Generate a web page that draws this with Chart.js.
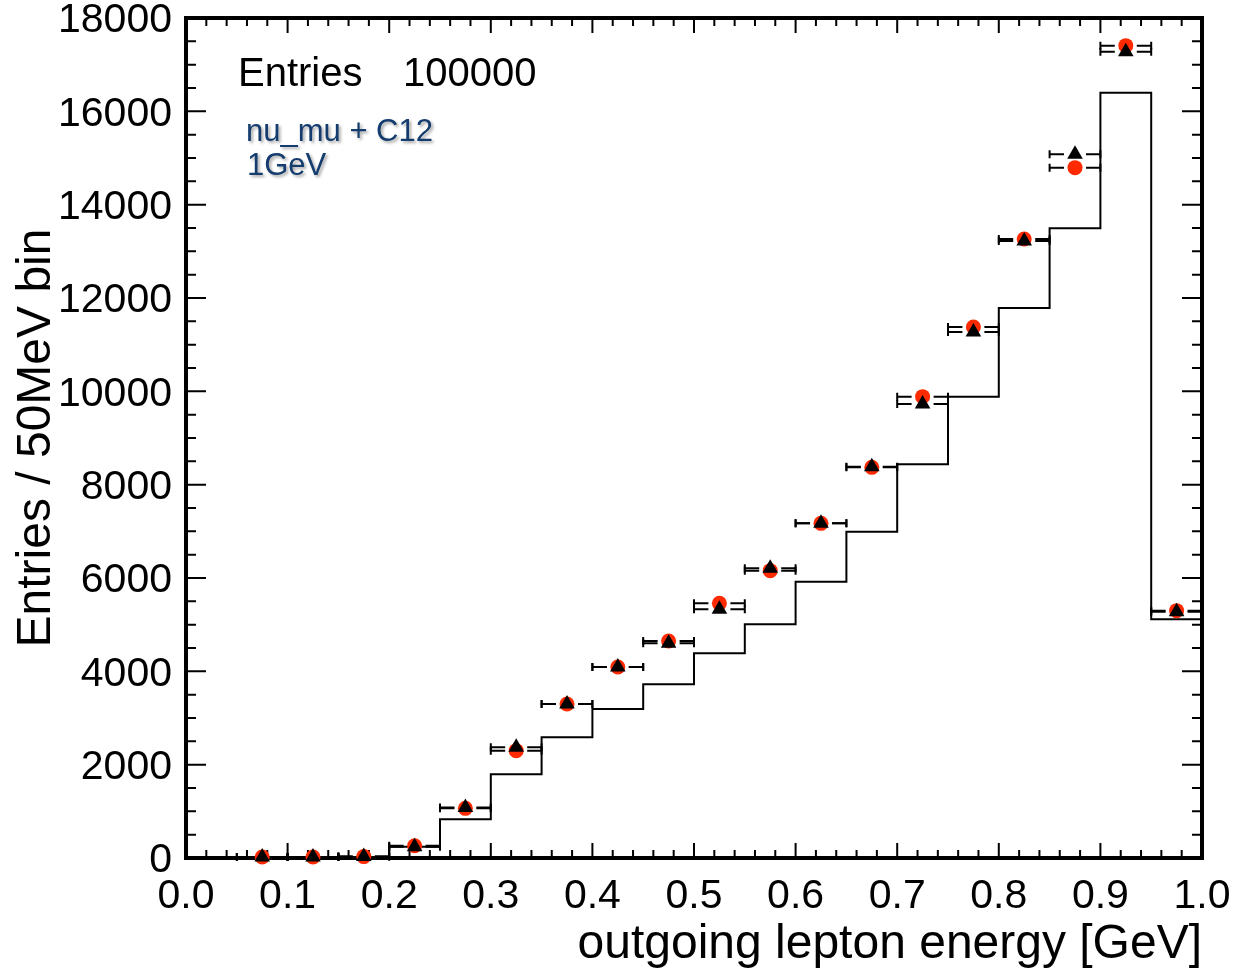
<!DOCTYPE html>
<html>
<head>
<meta charset="utf-8">
<script src="https://cdn.jsdelivr.net/npm/chart.js@4.4.0/dist/chart.umd.min.js"></script>
<style>
  html, body { margin: 0; padding: 0; background: #fff; }
  #wrap { width: 1233px; height: 974px; }
</style>
</head>
<body>
<div id="wrap"><canvas id="histo"></canvas></div>
<script>
// --- DATA ---
const binEdges = [0.00, 0.05, 0.10, 0.15, 0.20, 0.25, 0.30, 0.35, 0.40, 0.45,
                  0.50, 0.55, 0.60, 0.65, 0.70, 0.75, 0.80, 0.85, 0.90, 0.95, 1.00];
const binCenters = [0.025, 0.075, 0.125, 0.175, 0.225, 0.275, 0.325, 0.375, 0.425, 0.475,
                    0.525, 0.575, 0.625, 0.675, 0.725, 0.775, 0.825, 0.875, 0.925, 0.975];
// step histogram, one value per bin
const histValues = [0, 0, 5, 20, 242, 830, 1793, 2586, 3193, 3722,
                    4386, 5007, 5921, 6993, 8436, 9886, 11786, 13493, 16400, 5114];
// red circles
const circleValues = [null, 20, 20, 30, 263, 1064, 2300, 3300, 4093, 4650,
                      5457, 6157, 7171, 8371, 9886, 11379, 13264, 14793, 17407, 5300];
// black triangles
const triangleValues = [null, 20, 20, 30, 240, 1080, 2372, 3300, 4093, 4600,
                        5330, 6207, 7171, 8386, 9729, 11271, 13221, 15079, 17279, 5279];
const halfBin = 0.025;

const yTicks = [0, 2000, 4000, 6000, 8000, 10000, 12000, 14000, 16000, 18000];
const xTicks = [0.0, 0.1, 0.2, 0.3, 0.4, 0.5, 0.6, 0.7, 0.8, 0.9, 1.0];

const FONT = '"Liberation Sans", Arial, Helvetica, sans-serif';

// --- BUILD DATASETS ---
// each edge carries the value of the bin that starts there (last edge repeats the last bin)
const histPoints = binEdges.map((x, i) => ({ x: x, y: histValues[Math.min(i, histValues.length - 1)] }));
const circlePoints = binCenters.map((x, i) => ({ x: x, y: circleValues[i] }));
const trianglePoints = binCenters.map((x, i) => ({ x: x, y: triangleValues[i] }));

// --- FRAME, INWARD TICKS, ERROR BARS, TEXT ---
const rootStyle = {
    id: 'rootStyle',
    beforeDatasetsDraw(chart) {
        const ctx = chart.ctx;
        const a = chart.chartArea;
        const xs = chart.scales.x;
        const ys = chart.scales.y;
        ctx.save();
        ctx.strokeStyle = '#000';
        ctx.lineWidth = 2;
        ctx.beginPath();
        // x ticks (bottom and top), major 0.1, minor 0.02
        for (let k = 0; k <= 50; k++) {
            const px = xs.getPixelForValue(k * 0.02);
            const len = (k % 5 === 0) ? 15 : 8;
            ctx.moveTo(px, a.bottom); ctx.lineTo(px, a.bottom - len);
            ctx.moveTo(px, a.top); ctx.lineTo(px, a.top + len);
        }
        // y ticks (left and right), major 2000, minor 500
        for (let k = 0; k <= 36; k++) {
            const py = ys.getPixelForValue(k * 500);
            const len = (k % 4 === 0) ? 20 : 10;
            ctx.moveTo(a.left, py); ctx.lineTo(a.left + len, py);
            ctx.moveTo(a.right, py); ctx.lineTo(a.right - len, py);
        }
        ctx.stroke();
        // frame
        ctx.lineWidth = 4;
        ctx.strokeRect(a.left, a.top, a.right - a.left, a.bottom - a.top);

        // horizontal error bars with end caps, gap left for the marker
        ctx.lineWidth = 2;
        const gap = 11;
        [circleValues, triangleValues].forEach(vals => {
            vals.forEach((v, i) => {
                if (v === null) return;
                const cx = xs.getPixelForValue(binCenters[i]);
                const x0 = xs.getPixelForValue(binCenters[i] - halfBin);
                const x1 = xs.getPixelForValue(binCenters[i] + halfBin);
                const py = ys.getPixelForValue(v);
                ctx.beginPath();
                ctx.moveTo(x0, py); ctx.lineTo(cx - gap, py);
                ctx.moveTo(cx + gap, py); ctx.lineTo(x1, py);
                ctx.moveTo(x0, py - 4); ctx.lineTo(x0, py + 4);
                ctx.moveTo(x1, py - 4); ctx.lineTo(x1, py + 4);
                ctx.stroke();
            });
        });
        ctx.restore();
    },
    afterDraw(chart) {
        const ctx = chart.ctx;
        const a = chart.chartArea;
        ctx.save();
        // stats text
        ctx.fillStyle = '#000';
        ctx.font = '40px ' + FONT;
        ctx.textBaseline = 'alphabetic';
        ctx.textAlign = 'left';
        ctx.fillText('Entries', a.left + 52, a.top + 68);
        ctx.fillText('100000', a.left + 217, a.top + 68);

        // label with soft shadow
        ctx.font = '31px ' + FONT;
        ctx.fillStyle = '#143c6e';
        ctx.shadowColor = 'rgba(0,0,0,0.35)';
        ctx.shadowBlur = 3;
        ctx.shadowOffsetX = 2;
        ctx.shadowOffsetY = 2;
        ctx.fillText('nu_mu + C12', a.left + 60, a.top + 123);
        ctx.fillText('1GeV', a.left + 61, a.top + 157);
        ctx.restore();
    }
};

const ctx = document.getElementById('histo').getContext('2d');
const chart = new Chart(ctx, {
    data: {
        datasets: [
            {
                type: 'scatter',
                label: 'triangles',
                data: trianglePoints,
                pointStyle: 'triangle',
                pointRadius: 9,
                backgroundColor: '#000',
                borderColor: '#000',
                borderWidth: 0,
                clip: false,
                order: 0
            },
            {
                type: 'scatter',
                label: 'circles',
                data: circlePoints,
                pointStyle: 'circle',
                pointRadius: 7.5,
                backgroundColor: '#ff2a00',
                borderColor: '#ff2a00',
                borderWidth: 0,
                clip: false,
                order: 1
            },
            {
                type: 'line',
                label: 'histogram',
                data: histPoints,
                stepped: 'before',
                borderColor: '#000',
                borderWidth: 2,
                pointRadius: 0,
                fill: false,
                order: 2
            }
        ]
    },
    options: {
        responsive: true,
        maintainAspectRatio: false,
        animation: false,
        layout: { padding: { left: 8, right: 31, top: 18, bottom: 0 } },
        plugins: {
            legend: { display: false },
            tooltip: { enabled: false }
        },
        scales: {
            x: {
                type: 'linear',
                min: 0,
                max: 1,
                grid: { display: false, drawTicks: false },
                border: { display: false },
                afterBuildTicks: (scale) => { scale.ticks = xTicks.map(v => ({ value: v })); },
                afterFit: (scale) => {
                    scale.height = 116;
                    scale.paddingLeft = 0;
                    scale.paddingRight = 0;
                },
                ticks: {
                    color: '#000',
                    font: { size: 41, family: FONT },
                    padding: 14,
                    maxRotation: 0,
                    callback: (v) => v.toFixed(1)
                },
                title: {
                    display: true,
                    text: 'outgoing lepton energy [GeV]',
                    align: 'end',
                    color: '#000',
                    font: { size: 48, family: FONT },
                    padding: { top: 0, bottom: 0 }
                }
            },
            y: {
                min: 0,
                max: 18000,
                grid: { display: false, drawTicks: false },
                border: { display: false },
                afterBuildTicks: (scale) => { scale.ticks = yTicks.map(v => ({ value: v })); },
                afterFit: (scale) => {
                    scale.width = 178;
                    scale.paddingTop = 0;
                    scale.paddingBottom = 0;
                },
                ticks: {
                    color: '#000',
                    font: { size: 41, family: FONT },
                    padding: 14,
                    labelOffset: 3,
                    callback: (v) => String(v)
                },
                title: {
                    display: true,
                    text: 'Entries / 50MeV bin',
                    color: '#000',
                    font: { size: 48, family: FONT },
                    padding: { top: 0, bottom: 0 }
                }
            }
        }
    },
    plugins: [rootStyle]
});
</script>
</body>
</html>
